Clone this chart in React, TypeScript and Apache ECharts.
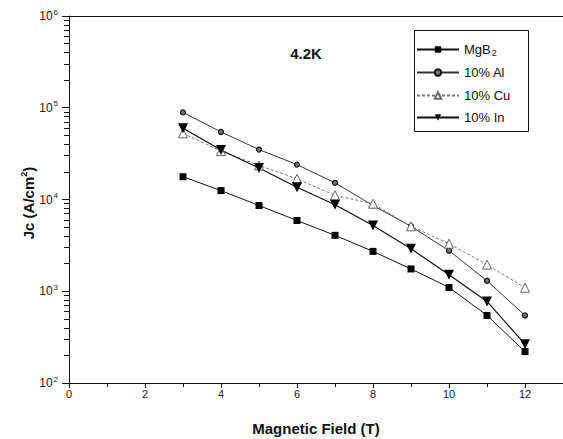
import React, { useEffect, useRef } from "react";
import * as echarts from "echarts";

const FIELD = [3, 4, 5, 6, 7, 8, 9, 10, 11, 12];
const MGB2 = [17700, 12500, 8600, 5900, 4070, 2720, 1750, 1100, 545, 220];
const AL = [89000, 54500, 35000, 24000, 15200, 8600, 5100, 2770, 1300, 545];
const CU = [52600, 33700, 23500, 16800, 11100, 9000, 5100, 3300, 1950, 1090];
const IN = [59700, 34600, 22000, 13600, 8750, 5200, 2910, 1510, 775, 265];

const SERIES_NAMES = ["MgB2", "10% Al", "10% Cu", "10% In"];
const LEGEND_ROW_Y = [50, 73, 96, 118];
const Y_MIN = 100;
const Y_MAX = 1000000;
const MINOR_Y: number[] = [];
for (let e = 2; e < 6; e++) {
  for (let m = 2; m <= 9; m++) MINOR_Y.push(m * Math.pow(10, e));
}

const FONT = "'Liberation Sans', Arial, sans-serif";

export default function App() {
  const ref = useRef<HTMLDivElement>(null);
  useEffect(() => {
    if (!ref.current) return;
    const chart = echarts.init(ref.current, null, { renderer: "svg" });
    const pts = (ys: number[]) => FIELD.map((x, i) => [x, ys[i]]);
    const option: any = {
      animation: false,
      backgroundColor: "#fff",
      grid: { left: 69, right: 0, top: 16, bottom: 56, containLabel: false },
      xAxis: [
        {
          type: "value",
          min: 0,
          max: 13,
          interval: 2,
          axisLine: { show: true, lineStyle: { color: "#111", width: 1 } },
          axisTick: { show: true, inside: false, length: 5, lineStyle: { color: "#111" } },
          minorTick: { show: true, splitNumber: 2, length: 4, lineStyle: { color: "#111" } },
          splitLine: { show: false },
          axisLabel: {
            showMaxLabel: false,
            margin: 5,
            fontSize: 11,
            fontFamily: FONT,
            color: "#222",
          },
        },
        {
          type: "value",
          position: "top",
          min: 0,
          max: 13,
          axisLine: { show: true, lineStyle: { color: "#111", width: 1 } },
          axisTick: { show: false },
          axisLabel: { show: false },
          splitLine: { show: false },
        },
      ],
      yAxis: [
        {
          type: "log",
          logBase: 10,
          min: Y_MIN,
          max: Y_MAX,
          axisLine: { show: true, lineStyle: { color: "#111", width: 1 } },
          axisTick: { show: true, length: 7, lineStyle: { color: "#111" } },
          splitLine: { show: false },
          axisLabel: {
            margin: 11,
            fontSize: 12,
            fontFamily: FONT,
            color: "#222",
            formatter: (v: number) => "10{sup|" + Math.round(Math.log10(v)) + "}",
            rich: {
              sup: { fontSize: 8, fontFamily: FONT, color: "#222", padding: [0, 0, 8, 1] },
            },
          },
        },
        {
          // minor log ticks, drawn on a linear axis spanning the same decades
          type: "value",
          position: "left",
          min: Math.log10(Y_MIN),
          max: Math.log10(Y_MAX),
          axisLine: { show: false },
          axisTick: {
            show: true,
            length: 5,
            customValues: MINOR_Y.map((v) => Math.log10(v)),
            lineStyle: { color: "#111" },
          },
          axisLabel: { show: false },
          splitLine: { show: false },
        },
      ],
      legend: SERIES_NAMES.map((n, i) => ({
        data: [n],
        left: 416,
        top: LEGEND_ROW_Y[i] - 7,
        padding: 0,
        itemWidth: 42,
        itemHeight: 8,
        selectedMode: false,
        textStyle: {
          fontSize: 13,
          fontFamily: FONT,
          color: "#111",
          rich: { sub: { fontSize: 9, fontFamily: FONT, color: "#111", padding: [7, 0, 0, 1] } },
        },
        formatter: (name: string) => (name === "MgB2" ? "MgB{sub|2}" : name),
      })),
      graphic: [
        {
          type: "rect",
          shape: { x: 414.5, y: 30.5, width: 114, height: 101 },
          style: { fill: "none", stroke: "#111", lineWidth: 1 },
          silent: true,
        },
        {
          type: "text",
          x: 306,
          y: 53,
          style: {
            text: "4.2K",
            font: "bold 15px " + FONT,
            fill: "#111",
            align: "center",
            verticalAlign: "middle",
          },
        },
        {
          type: "text",
          x: 316,
          y: 428,
          style: {
            text: "Magnetic Field (T)",
            font: "bold 15px " + FONT,
            fill: "#111",
            align: "center",
            verticalAlign: "middle",
          },
        },
        {
          type: "text",
          x: 28,
          y: 203,
          rotation: Math.PI / 2,
          style: {
            text: "Jc (A/cm{s|2})",
            font: "bold 15px " + FONT,
            fill: "#111",
            align: "center",
            verticalAlign: "middle",
            rich: { s: { font: "bold 9px " + FONT, fill: "#111", padding: [0, 0, 9, 0] } },
          },
        },
      ],
      series: [
        {
          name: "MgB2",
          type: "line",
          data: pts(MGB2),
          symbol: "rect",
          symbolSize: 7,
          itemStyle: { color: "#000" },
          lineStyle: { color: "#111", width: 1 },
        },
        {
          name: "10% Al",
          type: "line",
          data: pts(AL),
          symbol: "circle",
          symbolSize: 5,
          itemStyle: { color: "#777", borderColor: "#111", borderWidth: 1.3 },
          lineStyle: { color: "#333", width: 1 },
        },
        {
          name: "10% Cu",
          type: "line",
          data: pts(CU),
          symbol: "triangle",
          symbolSize: 9,
          itemStyle: { color: "#fff", borderColor: "#666", borderWidth: 1 },
          lineStyle: { color: "#777", width: 1, type: [3, 2] },
        },
        {
          name: "10% In",
          type: "line",
          data: pts(IN),
          symbol: "triangle",
          symbolRotate: 180,
          symbolSize: 10,
          itemStyle: { color: "#000" },
          lineStyle: { color: "#111", width: 1.2 },
        },
      ],
    };
    chart.setOption(option);
    return () => chart.dispose();
  }, []);
  return (
    <div
      ref={ref}
      style={{ position: "absolute", left: 0, top: 0, width: 563, height: 439 }}
    />
  );
}
